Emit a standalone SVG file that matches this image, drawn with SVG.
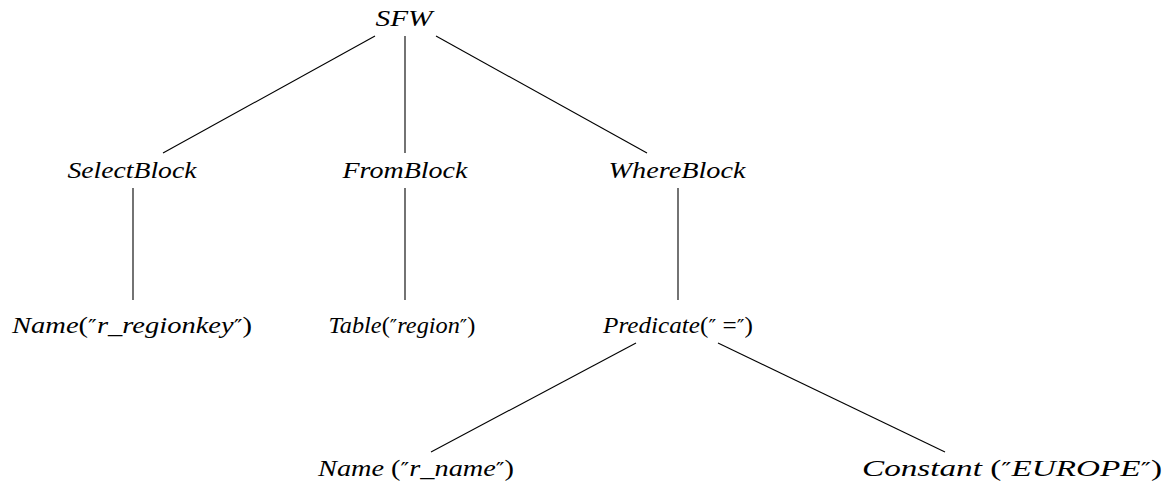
<svg xmlns="http://www.w3.org/2000/svg" width="1172" height="487" viewBox="0 0 1172 487">
<style>
text{font-family:"Liberation Serif","DejaVu Serif",serif;font-style:italic;font-size:23px;fill:#000;text-anchor:middle}
.u{font-style:normal}
.p{font-family:"DejaVu Serif",serif;font-style:normal;font-size:19px}
.e{stroke:#000;stroke-width:1.1;fill:none}
</style>
<rect width="1172" height="487" fill="#fff"/>
<g id="connectors">
<line class="e" x1="375" y1="36" x2="163" y2="153"/>
<line class="e" x1="405" y1="36" x2="405" y2="153"/>
<line class="e" x1="436" y1="36" x2="647" y2="153"/>
<line class="e" x1="133" y1="188" x2="133" y2="300"/>
<line class="e" x1="405" y1="188" x2="405" y2="300"/>
<line class="e" x1="678" y1="188" x2="678" y2="300"/>
<line class="e" x1="636" y1="343" x2="431" y2="452"/>
<line class="e" x1="718" y1="343" x2="945" y2="452"/>
</g>
<g id="n-sfw"><text x="404" y="26" textLength="57" lengthAdjust="spacingAndGlyphs">SFW</text></g>
<g id="n-select"><text x="132" y="178" textLength="129" lengthAdjust="spacingAndGlyphs">SelectBlock</text></g>
<g id="n-from"><text x="405" y="178" textLength="125" lengthAdjust="spacingAndGlyphs">FromBlock</text></g>
<g id="n-where"><text x="677" y="178" textLength="137" lengthAdjust="spacingAndGlyphs">WhereBlock</text></g>
<g id="n-name1"><text x="132" y="333" textLength="240" lengthAdjust="spacingAndGlyphs">Name<tspan class="u">(</tspan><tspan class="p">″</tspan>r_regionkey<tspan class="p">″</tspan><tspan class="u">)</tspan></text></g>
<g id="n-table"><text x="402" y="333" textLength="147" lengthAdjust="spacingAndGlyphs">Table<tspan class="u">(</tspan><tspan class="p">″</tspan>region<tspan class="p">″</tspan><tspan class="u">)</tspan></text></g>
<g id="n-pred"><text x="678" y="333" textLength="150" lengthAdjust="spacingAndGlyphs">Predicate<tspan class="u">(</tspan><tspan class="p">″</tspan><tspan class="u"> =</tspan><tspan class="p">″</tspan><tspan class="u">)</tspan></text></g>
<g id="n-name2"><text x="416" y="476" textLength="196" lengthAdjust="spacingAndGlyphs">Name <tspan class="u">(</tspan><tspan class="p">″</tspan>r_name<tspan class="p">″</tspan><tspan class="u">)</tspan></text></g>
<g id="n-const"><text x="1012" y="476" textLength="300" lengthAdjust="spacingAndGlyphs">Constant <tspan class="u">(</tspan><tspan class="p">″</tspan>EUROPE<tspan class="p">″</tspan><tspan class="u">)</tspan></text></g>
</svg>
